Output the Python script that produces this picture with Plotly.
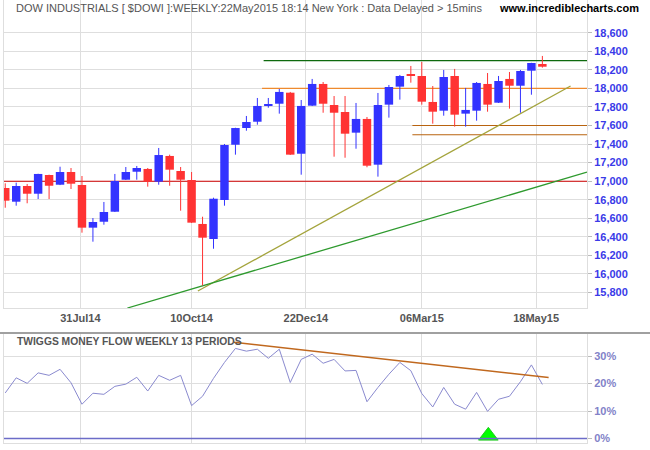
import plotly.graph_objects as go
import pandas as pd

# ---- data (weekly bars, last bar 22 May 2015) ----
last_date = "2015-05-22"
opens  = [16927,16779,16948,16865,17067,16962,17099,16959,16499,16563,
          16671,17016,17102,17132,16995,17272,17110,17013,16539,16377,
          16797,17393,17573,17641,17814,17835,17954,17296,17814,18048,
          17821,17746,17523,17671,17178,17825,18019,18145,18134,17854,
          17760,18134,17728,17760,18048,17846,18102,18029,18191,18263]
highs  = [16977,16984,16970,17080,17070,17156,17142,17056,16603,16776,
          17078,17153,17164,17142,17358,17286,17153,17099,16617,16822,
          17401,17576,17703,17897,17897,17994,17962,17875,18102,18069,
          17918,17918,17843,17692,17951,18037,18145,18242,18285,18026,
          18199,18210,18005,18069,18166,18134,18177,18199,18276,18350]
lows   = [16714,16736,16762,16808,16808,16958,16916,16445,16348,16531,
          16668,17013,17016,16941,16962,16951,16682,16550,15876,16272,
          16736,17286,17544,17609,17792,17728,17283,17070,17810,17738,
          17264,17253,17350,17150,17049,17685,17879,18062,17825,17620,
          17706,17588,17588,17652,17749,17843,17782,17738,17932,18224]
closes = [16790,16948,16865,17078,16951,17099,16973,16499,16560,16668,
          17002,17099,17142,16995,17282,17124,17016,16553,16391,16811,
          17390,17573,17638,17811,17832,17962,17286,17811,18048,17835,
          17738,17512,17671,17167,17821,18015,18134,18140,17857,17749,
          18123,17717,17768,18059,17825,18080,18029,18188,18274,18234]
tmf    = [16.6,22.1,20.1,23.9,23.0,25.2,20.3,12.5,16.5,16.1,
          19.0,19.8,22.3,17.3,23.0,21.2,23.0,12.0,15.4,21.9,
          27.7,32.8,31.8,32.5,29.2,32.5,20.4,28.8,30.7,27.4,
          28.8,24.6,24.8,13.4,18.6,23.4,27.7,24.7,16.4,11.5,
          18.6,12.5,10.7,16.8,9.9,14.3,15.4,20.7,26.8,19.7]
dates = pd.date_range(end=last_date, periods=len(closes), freq="7D")

x_tick_dates = ["2014-07-31", "2014-10-10", "2014-12-22", "2015-03-06", "2015-05-18"]
x_tick_text = ["31Jul14", "10Oct14", "22Dec14", "06Mar15", "18May15"]
y_ticks = list(range(15800, 18601, 200))
tmf_ticks = [0, 10, 20, 30]

# horizontal support/resistance levels: (value, start date, colour)
levels = [(17000, None, "#D00000"), (18000, "2014-11-24", "#EE8A2E"),
          (18300, "2014-11-25", "#0E6A0E"), (17600, "2015-02-28", "#B8630F"),
          (17500, "2015-02-28", "#B8630F")]
# trend lines: (date0, value0, date1, value1, colour)
trends = [("2014-10-14", 15816, "2015-06-09", 18026, "#A4A43C"),
          ("2014-08-30", 15633, "2015-06-19 12:00", 17097, "#2E9A2E")]
tmf_trend = ("2014-11-06", 35.0, "2015-05-26", 22.2)
signal_date, signal_value = "2015-04-17 12:00", 1.0

x_range = ["2014-06-12 05:00", "2015-06-19 12:00"]
y_range = [15633, 18953]
tmf_range = [-1.6, 38.4]

UP, DOWN = "#3333FF", "#FF3333"
body_width_ms = 5.4 * 24 * 3600 * 1000

fig = go.Figure()

# wicks (high-low) drawn as line segments, one trace per colour
for is_up, col in [(True, UP), (False, DOWN)]:
    wx, wy = [], []
    for d, o, h, l, c in zip(dates, opens, highs, lows, closes):
        if (c >= o) == is_up:
            wx += [d, d, None]
            wy += [l, h, None]
    fig.add_trace(go.Scatter(x=wx, y=wy, mode="lines", line=dict(color=col, width=1),
                             showlegend=False, hoverinfo="skip", xaxis="x", yaxis="y"))

# candle bodies as floating bars
body_base = [min(o, c) for o, c in zip(opens, closes)]
body_len = [max(abs(c - o), 4) for o, c in zip(opens, closes)]
body_col = [UP if c >= o else DOWN for o, c in zip(opens, closes)]
fig.add_trace(go.Bar(x=dates, y=body_len, base=body_base, width=body_width_ms,
                     marker=dict(color=body_col, line=dict(width=0)),
                     showlegend=False, xaxis="x", yaxis="y"))

for val, start, col in levels:
    x0 = start if start else x_range[0]
    fig.add_shape(type="line", xref="x", yref="y", x0=x0, x1=x_range[1],
                  y0=val, y1=val, layer="between", line=dict(color=col, width=1.1))
for d0, v0, d1, v1, col in trends:
    fig.add_shape(type="line", xref="x", yref="y", x0=d0, x1=d1, y0=v0, y1=v1,
                  layer="between", line=dict(color=col, width=1.3))

fig.add_trace(go.Scatter(x=dates, y=tmf, mode="lines",
                         line=dict(color="#8A8ACF", width=1),
                         showlegend=False, xaxis="x2", yaxis="y2"))
fig.add_shape(type="line", xref="x2", yref="y2", x0=tmf_trend[0], x1=tmf_trend[2],
              y0=tmf_trend[1], y1=tmf_trend[3], line=dict(color="#C0681E", width=1.5))
fig.add_shape(type="line", xref="x2", yref="y2", x0=x_range[0], x1=x_range[1],
              y0=0, y1=0, line=dict(color="#6C6CC8", width=1.5))
fig.add_trace(go.Scatter(x=[signal_date], y=[signal_value], mode="markers",
                         marker=dict(symbol="triangle-up", size=17, color="#00FF00",
                                     line=dict(color="#22CC22", width=1)),
                         showlegend=False, xaxis="x2", yaxis="y2", cliponaxis=False))

grid = "#DEDEDE"
font_family = "Liberation Sans, Arial, sans-serif"
tickfont = dict(family=font_family, size=11, weight="bold")
fig.update_layout(
    width=650, height=450, margin=dict(l=4, r=63, t=0, b=7),
    paper_bgcolor="white", plot_bgcolor="white",
    xaxis=dict(type="date", range=x_range, anchor="y", domain=[0, 1],
               tickvals=x_tick_dates, ticktext=x_tick_text,
               tickfont=dict(tickfont, color="#555555"),
               showgrid=True, gridcolor=grid, gridwidth=1, ticks="",
               showline=True, linecolor=grid, mirror=True, zeroline=False),
    xaxis2=dict(type="date", range=x_range, anchor="y2", matches="x",
                tickvals=x_tick_dates, showticklabels=False,
                showgrid=True, gridcolor=grid, ticks="",
                showline=True, linecolor=grid, mirror=True),
    yaxis=dict(domain=[0.3047, 1], range=y_range, side="right",
               tickvals=y_ticks, ticktext=[f"{v:,}" for v in y_ticks],
               tickfont=dict(tickfont, color="#3A3AE8"),
               showgrid=True, gridcolor=grid, ticks="outside", ticklen=4,
               tickcolor="#BBBBBB", showline=True, linecolor=grid, mirror=True,
               zeroline=False),
    yaxis2=dict(domain=[0, 0.2483], range=tmf_range, side="right", anchor="x2",
                tickvals=tmf_ticks, ticktext=[f"{v}%" for v in tmf_ticks],
                tickfont=dict(tickfont, color="#8282C8"),
                showgrid=True, gridcolor=grid, ticks="outside", ticklen=4,
                tickcolor="#BBBBBB", showline=True, linecolor=grid, mirror=True,
                zeroline=False),
    annotations=[
        dict(text="DOW INDUSTRIALS [ $DOWI ]:WEEKLY:22May2015 18:14 New York : Data Delayed > 15mins",
             xref="paper", yref="paper", x=0.0172, y=1, xanchor="left", yanchor="top",
             showarrow=False, font=dict(family=font_family, size=11, color="#555555")),
        dict(text="<b>www.incrediblecharts.com</b>", xref="paper", yref="paper",
             x=1.0926, y=1, xanchor="right", yanchor="top", showarrow=False,
             font=dict(family=font_family, size=11, color="#000000")),
        dict(text="<b>TWIGGS MONEY FLOW WEEKLY 13 PERIODS</b>", xref="paper", yref="paper",
             x=0.0189, y=0.2302, xanchor="left", yanchor="middle", showarrow=False,
             font=dict(family=font_family, size=10.3, color="#555555")),
    ],
    shapes=list(fig.layout.shapes) + [
        dict(type="line", xref="paper", yref="paper", x0=-0.01, x1=1.11,
             y0=0.2483, y1=0.2483, line=dict(color="#A0A0A0", width=2)),
    ],
)

fig.write_html("out.html")
